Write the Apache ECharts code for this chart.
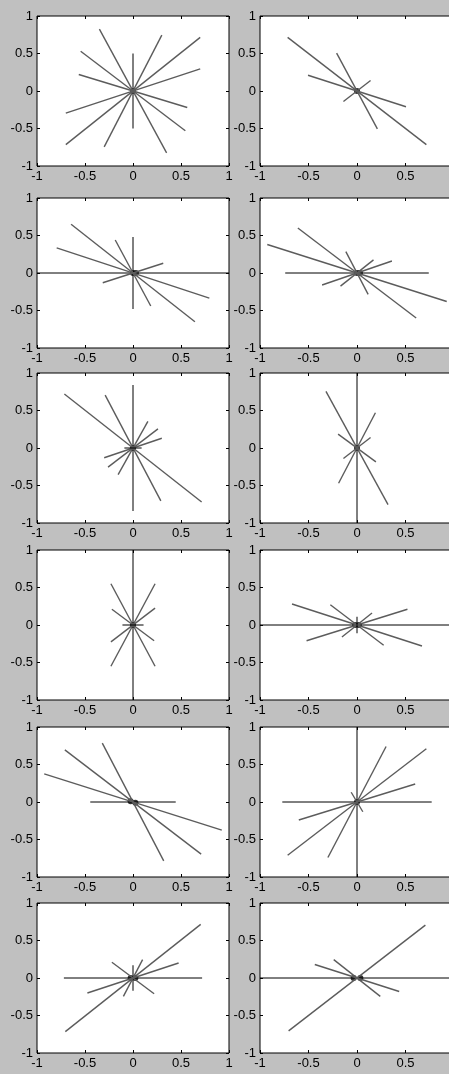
<!DOCTYPE html>
<html>
<head>
<meta charset="utf-8">
<script src="https://cdn.jsdelivr.net/npm/echarts@6/dist/echarts.min.js"></script>
<style>
  html, body { margin: 0; padding: 0; background: #c0c0c0; }
  #chart { width: 449px; height: 1074px; }
</style>
</head>
<body>
<div id="chart"></div>
<script>
// each ray is drawn from (-x,-y) to (x,y)
const rays1 = [[0, 0.5], [0.7, 0.715], [0.3, 0.745], [-0.35, 0.825], [-0.545, 0.53], [-0.565, 0.22], [0.7, 0.295]];
const rays2 = [[-0.715, 0.715], [-0.21, 0.505], [-0.505, 0.21], [0.14, 0.14]];
const rays3 = [[1, 0], [0, 0.48], [-0.645, 0.65], [-0.795, 0.335], [-0.185, 0.44], [0.315, 0.13]];
const rays4 = [[0.74, 0], [-0.925, 0.38], [-0.61, 0.6], [-0.115, 0.285], [0.17, 0.175], [0.36, 0.16]];
const rays5 = [[0, 0.84], [-0.715, 0.72], [-0.29, 0.705], [0.155, 0.355], [0.26, 0.255], [0.3, 0.13], [0.09, 0]];
const rays6 = [[0, 1], [-0.32, 0.755], [0.19, 0.47], [-0.195, 0.185], [0.14, 0.14]];
const rays7 = [[0, 1], [-0.23, 0.55], [0.23, 0.55], [-0.22, 0.21], [0.23, 0.225], [0.11, 0]];
const rays8 = [[1, 0], [-0.67, 0.28], [-0.275, 0.27], [0.52, 0.21], [0.155, 0.16], [0, 0.11]];
const rays9 = [[0.445, 0], [-0.925, 0.375], [-0.71, 0.695], [-0.32, 0.785]];
const rays10 = [[0, 1], [0.77, 0], [0.3, 0.74], [0.715, 0.71], [0.6, 0.24], [-0.06, 0.13]];
const rays11 = [[0.72, 0], [0.705, 0.715], [0.475, 0.2], [0, 0.17], [0.1, 0.245], [-0.22, 0.21]];
const rays12 = [[1, 0], [0.705, 0.705], [-0.435, 0.18], [-0.24, 0.245]];

// black marker blobs near the origin
const dots1 = [[0, 0]];
const dots2 = [[0, 0]];
const dots3 = [[0, 0], [0.03, 0]];
const dots4 = [[0, 0], [0.03, 0]];
const dots5 = [[0, 0]];
const dots6 = [[0, 0]];
const dots7 = [[0, 0]];
const dots8 = [[-0.02, 0], [0.02, 0]];
const dots9 = [[-0.025, 0.01], [0.025, -0.01]];
const dots10 = [[0, 0]];
const dots11 = [[-0.025, 0], [0.025, 0]];
const dots12 = [[-0.035, 0], [0.035, 0]];

const axisMin = -1;
const axisMax = 1;
const tickStep = 0.5;

const panels = [rays1, rays2, rays3, rays4, rays5, rays6, rays7, rays8, rays9, rays10, rays11, rays12];
const dots = [dots1, dots2, dots3, dots4, dots5, dots6, dots7, dots8, dots9, dots10, dots11, dots12];

const rowTops = [16, 198, 373, 550, 727, 903];
const colLefts = [37, 260];
const colWidths = [192, 194];
const plotHeight = 150;

const font = { fontFamily: 'Liberation Sans', fontSize: 13, color: '#000' };

const grid = [], xAxis = [], yAxis = [], series = [];

panels.forEach((rays, i) => {
  const row = Math.floor(i / 2), col = i % 2;
  grid.push({
    left: colLefts[col], top: rowTops[row], width: colWidths[col], height: plotHeight,
    outerBoundsMode: 'none', containLabel: false,
    show: true, backgroundColor: '#fff', borderColor: '#000', borderWidth: 1
  });
  const base = {
    gridIndex: i, type: 'value', min: axisMin, max: axisMax, interval: tickStep,
    axisLine: { show: false, onZero: false },
    axisTick: { show: true, inside: true, length: 3, lineStyle: { color: '#000' } },
    splitLine: { show: false }
  };
  // bottom + top x axes, left + right y axes (ticks on all four sides)
  xAxis.push(Object.assign({}, base, {
    position: 'bottom',
    axisLabel: Object.assign({ margin: 4, showMinLabel: true, showMaxLabel: true }, font)
  }));
  xAxis.push(Object.assign({}, base, { position: 'top', axisLabel: { show: false } }));
  yAxis.push(Object.assign({}, base, {
    position: 'left',
    axisLabel: Object.assign({ margin: 4, showMinLabel: true, showMaxLabel: true }, font)
  }));
  yAxis.push(Object.assign({}, base, { position: 'right', axisLabel: { show: false } }));

  rays.forEach(r => {
    const straight = r[0] === 0 || r[1] === 0;
    series.push({
      type: 'line', xAxisIndex: i * 2, yAxisIndex: i * 2,
      data: [[-r[0], -r[1]], [r[0], r[1]]],
      symbol: 'none', silent: true, animation: false, clip: true,
      lineStyle: { color: straight ? '#000' : '#5c5c5c', width: straight ? 1 : 1.4 }
    });
  });
  series.push({
    type: 'scatter', xAxisIndex: i * 2, yAxisIndex: i * 2,
    data: dots[i], symbol: 'circle', symbolSize: 6, silent: true, animation: false,
    itemStyle: { color: '#000' }
  });
});

const chart = echarts.init(document.getElementById('chart'));
chart.setOption({
  backgroundColor: '#c0c0c0',
  animation: false,
  grid: grid,
  xAxis: xAxis,
  yAxis: yAxis,
  series: series
});
</script>
</body>
</html>
